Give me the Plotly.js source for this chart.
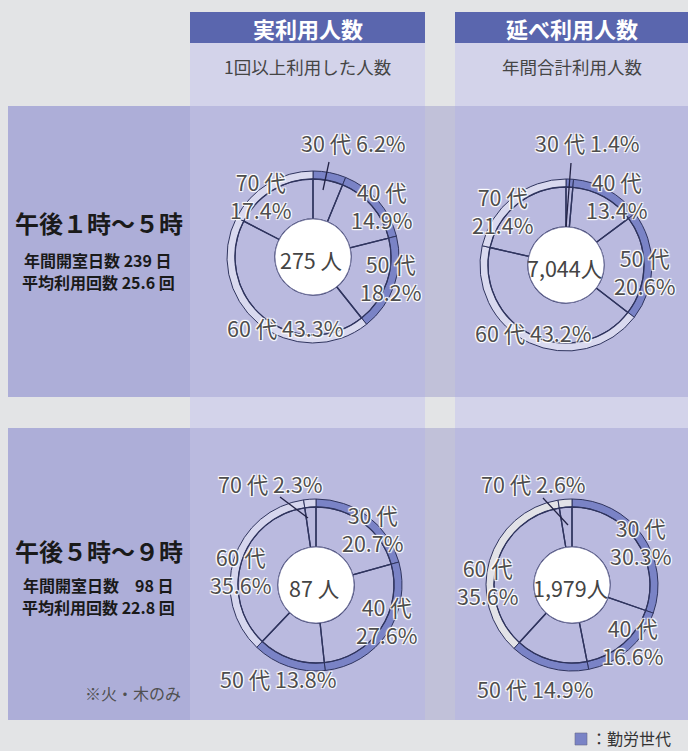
<!DOCTYPE html>
<html><head><meta charset="utf-8">
<script src="https://cdn.plot.ly/plotly-3.0.1.min.js"></script>
<style>html,body{margin:0;padding:0;background:#e3e4e6;}#chart{width:688px;height:751px;}</style>
</head><body><div id="chart"></div>
<script>
// ---------- data ----------
const ages = ['30代','40代','50代','60代','70代'];
const workingAge = [true, true, true, false, false];
const actualDay = [6.2, 14.9, 18.2, 43.3, 17.4];   // 実利用人数 午後1時～5時
const totalDay  = [1.4, 13.4, 20.6, 43.2, 21.4];   // 延べ利用人数 午後1時～5時
const actualEve = [20.7, 27.6, 13.8, 35.6, 2.3];   // 実利用人数 午後5時～9時
const totalEve  = [30.3, 16.6, 14.9, 35.6, 2.6];   // 延べ利用人数 午後5時～9時
const totals = [275, 7044, 87, 1979];
const columnTitles = ['実利用人数', '延べ利用人数'];
const columnSubtitles = ['1回以上利用した人数', '年間合計利用人数'];
const rowTitles = ['午後１時～５時', '午後５時～９時'];
const openDays = [239, 98];
const avgVisits = [25.6, 22.8];
const rowNote = '※火・木のみ';
const legendLabel = '：勤労世代';

// ---------- layout helpers ----------
const W = 688, H = 751;
const X = p => p / W;
const Y = p => 1 - p / H;
const FONT = '"Noto Sans CJK JP", "Noto Sans", sans-serif';

const C = {
  bg: '#e3e4e6', header: '#5a66ae', light: '#d3d3ea', rowLeft: '#adaed8',
  cell: '#babadf', gap: '#c1c1d9', blue: '#7a83c6', line: '#2f345e'
};

const shapes = [];
const annotations = [];
function rect(x0, y0, x1, y1, color) {
  shapes.push({type: 'rect', xref: 'paper', yref: 'paper', x0: X(x0), x1: X(x1), y0: Y(y1), y1: Y(y0),
    fillcolor: color, line: {width: 0}, layer: 'below'});
}
function text(t, x, y, opts) {
  annotations.push(Object.assign({text: t, x: X(x), y: Y(y), xref: 'paper', yref: 'paper',
    showarrow: false, xanchor: 'center', yanchor: 'middle', align: 'center',
    font: {family: FONT, size: 21, color: '#505050'}}, opts || {}));
}

// backgrounds
const cols = [[190, 425], [455, 688]];
cols.forEach(([a, b], i) => {
  rect(a, 12, b, 43, C.header);
  rect(a, 43, b, 106, C.light);
  rect(a, 397, b, 428, C.light);
});
[[106, 397], [428, 720]].forEach(([t, b]) => {
  rect(8, t, 190, b, C.rowLeft);
  rect(190, t, 425, b, C.cell);
  rect(425, t, 455, b, C.gap);
  rect(455, t, 688, b, C.cell);
});

// column headers
cols.forEach(([a, b], i) => {
  text(columnTitles[i], (a + b) / 2, 28, {font: {family: FONT, size: 22, color: '#ffffff', weight: 'bold'}});
  text(columnSubtitles[i], (a + b) / 2, 67, {font: {family: FONT, size: 17.5, color: '#454545'}});
});

// row headers
const rowTextY = [[223, 260, 282], [550, 585, 607]];
const infoFont = {family: FONT, size: 16, color: '#1a1a1a', weight: 'bold'};
rowTitles.forEach((t, i) => {
  const [ty, y1, y2] = rowTextY[i];
  text(t, 99, ty, {font: {family: FONT, size: 24, color: '#1a1a1a', weight: 'bold'}});
  const sep = openDays[i] < 100 ? '　' : ' ';
  text('年間開室日数' + sep + openDays[i] + ' 日', 98, y1, {font: infoFont});
  text('平均利用回数 ' + avgVisits[i].toFixed(1) + ' 回', 98, y2, {font: infoFont});
});
text(rowNote, 183, 693, {xanchor: 'right', font: {family: FONT, size: 16, color: '#505050'}});

// legend
shapes.push({type: 'rect', xref: 'paper', yref: 'paper', x0: X(575), x1: X(587), y0: Y(745), y1: Y(733),
  fillcolor: C.blue, line: {color: '#6a6a8a', width: 0.6}, layer: 'above'});
text(legendLabel, 589, 738, {xanchor: 'left', font: {family: FONT, size: 16, color: '#333333'}});

// ---------- donuts ----------
const R = 86, RB = 78, RW = 38;
const charts = [
  {vals: actualDay, cx: 313, cy: 257, lightC: '#d9d9ef'},
  {vals: totalDay,  cx: 566, cy: 265, lightC: '#d9d9ef'},
  {vals: actualEve, cx: 316, cy: 585, lightC: '#d6d6ee'},
  {vals: totalEve,  cx: 572, cy: 585, lightC: '#e2e2e7'}
];
// label placement (pixel centre of first label line; optional leader line)
const labelPos = [
  [{x: 353, y: 143, one: true, lead: [329, 162, 323, 190]}, {x: 381, y: 192}, {x: 390, y: 264}, {x: 285, y: 327, one: true}, {x: 260, y: 182}],
  [{x: 587, y: 143, one: true, lead: [571, 163, 566, 227]}, {x: 616, y: 182}, {x: 644, y: 258}, {x: 533, y: 332, one: true}, {x: 502, y: 198}],
  [{x: 372, y: 515}, {x: 386, y: 607}, {x: 278, y: 678, one: true}, {x: 240, y: 557}, {x: 270, y: 483, one: true, lead: [280, 497, 308, 518]}],
  [{x: 640, y: 528}, {x: 632, y: 628}, {x: 535, y: 688, one: true}, {x: 487, y: 568}, {x: 533, y: 483, one: true, lead: [543, 498, 568, 525]}]
];
const HALO = '-1px -1px 1px #fff, 1px -1px 1px #fff, -1px 1px 1px #fff, 1px 1px 1px #fff, 0 0 2px #fff';
const labelFont = {family: FONT, size: 21.5, color: '#4e4e4e', shadow: HALO};

const traces = [];
charts.forEach((c, ci) => {
  // outer band
  traces.push({type: 'pie', values: c.vals, labels: ages, sort: false, direction: 'clockwise', rotation: 0,
    hole: RB / R, textinfo: 'none', hoverinfo: 'label+value', showlegend: false,
    marker: {colors: workingAge.map(w => w ? C.blue : c.lightC), line: {color: C.line, width: 1}},
    domain: {x: [X(c.cx - R), X(c.cx + R)], y: [Y(c.cy + R), Y(c.cy - R)]}});
  // inner sectors (transparent, separator lines)
  traces.push({type: 'pie', values: c.vals, labels: ages, sort: false, direction: 'clockwise', rotation: 0,
    hole: RW / RB, textinfo: 'none', hoverinfo: 'skip', showlegend: false,
    marker: {colors: ages.map(() => 'rgba(0,0,0,0)'), line: {color: C.line, width: 1.3}},
    domain: {x: [X(c.cx - RB), X(c.cx + RB)], y: [Y(c.cy + RB), Y(c.cy - RB)]}});
  // white centre
  shapes.push({type: 'circle', xref: 'paper', yref: 'paper', x0: X(c.cx - RW), x1: X(c.cx + RW),
    y0: Y(c.cy + RW), y1: Y(c.cy - RW), fillcolor: '#ffffff', line: {color: '#7d7fa8', width: 0.8}, layer: 'above'});
  const n = totals[ci];
  const tot = n < 1000 ? n + ' 人' : n.toLocaleString('en-US') + '人';
  text(tot, c.cx - 2, c.cy + 2, {font: {family: FONT, size: 21.5, color: '#444444'}});
  // labels
  c.vals.forEach((v, i) => {
    const p = labelPos[ci][i];
    const age = ages[i].replace('代', ' 代');
    const pct = v.toFixed(1) + '%';
    if (p.one) {
      text(age + ' ' + pct, p.x, p.y, {font: labelFont});
    } else {
      text(age + '<br>' + pct, p.x + 1, p.y + 13, {font: labelFont});
    }
    if (p.lead) {
      shapes.push({type: 'line', xref: 'paper', yref: 'paper', x0: X(p.lead[0]), y0: Y(p.lead[1]),
        x1: X(p.lead[2]), y1: Y(p.lead[3]), line: {color: '#222244', width: 1.3}, layer: 'above'});
    }
  });
});

Plotly.newPlot('chart', traces, {
  width: W, height: H, margin: {l: 0, r: 0, t: 0, b: 0},
  paper_bgcolor: C.bg, plot_bgcolor: C.bg, showlegend: false,
  shapes: shapes, annotations: annotations
}, {displayModeBar: false, staticPlot: true});
</script></body></html>
